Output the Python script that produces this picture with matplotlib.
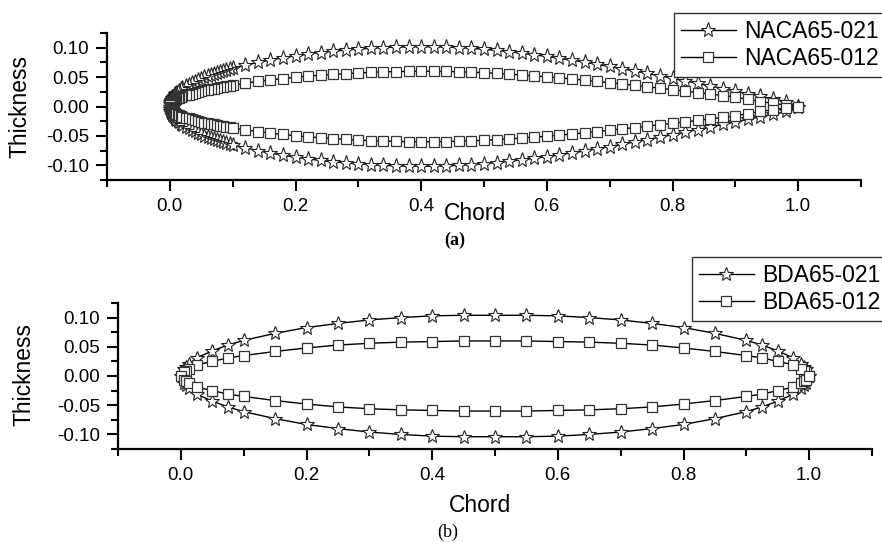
import matplotlib
matplotlib.use("Agg")
import matplotlib.pyplot as plt
from matplotlib.ticker import MultipleLocator, FormatStrFormatter
import numpy as np

plt.rcParams['font.family'] = ['Liberation Sans', 'DejaVu Sans']
plt.rcParams['axes.unicode_minus'] = False

W, H = 882, 542

# (a) NACA65 half-thickness distributions
naca_x = [0, 0.0005, 0.001, 0.0015, 0.002, 0.0025, 0.003, 0.004, 0.005, 0.006,
          0.0075, 0.009, 0.01, 0.0125, 0.015, 0.0175, 0.02, 0.025, 0.03, 0.035,
          0.04, 0.045, 0.05, 0.055, 0.06, 0.065, 0.07, 0.075, 0.08, 0.085,
          0.09, 0.095, 0.1, 0.12, 0.14, 0.16, 0.18, 0.2, 0.22, 0.24,
          0.26, 0.28, 0.3, 0.32, 0.34, 0.36, 0.38, 0.4, 0.42, 0.44,
          0.46, 0.48, 0.5, 0.52, 0.54, 0.56, 0.58, 0.6, 0.62, 0.64,
          0.66, 0.68, 0.7, 0.72, 0.74, 0.76, 0.78, 0.8, 0.82, 0.84,
          0.86, 0.88, 0.9, 0.92, 0.94, 0.96, 0.98, 1.0]
naca021 = [0, 0.0050, 0.0071, 0.0087, 0.0100, 0.0112, 0.0122, 0.0141, 0.0158, 0.0172,
           0.0194, 0.0211, 0.0222, 0.0248, 0.0272, 0.0293, 0.0312, 0.0344, 0.0374, 0.0400,
           0.0425, 0.0452, 0.0475, 0.0496, 0.0516, 0.0535, 0.0554, 0.0571, 0.0588, 0.0605,
           0.0621, 0.0636, 0.0652, 0.0703, 0.0750, 0.0792, 0.0829, 0.0863, 0.0892, 0.0918,
           0.0940, 0.0960, 0.0977, 0.0990, 0.1001, 0.1010, 0.1015, 0.1017, 0.1016, 0.1011,
           0.1001, 0.0989, 0.0973, 0.0953, 0.0931, 0.0907, 0.0879, 0.0851, 0.0820, 0.0788,
           0.0754, 0.0718, 0.0681, 0.0642, 0.0603, 0.0562, 0.0521, 0.0478, 0.0436, 0.0393,
           0.0350, 0.0306, 0.0262, 0.0218, 0.0174, 0.0130, 0.0085, 0]
naca012 = [0, 0.0029, 0.0041, 0.0050, 0.0058, 0.0065, 0.0071, 0.0082, 0.0092, 0.0100,
           0.0111, 0.0120, 0.0126, 0.0140, 0.0152, 0.0163, 0.0174, 0.0188, 0.0204, 0.0219,
           0.0233, 0.0248, 0.0261, 0.0273, 0.0284, 0.0295, 0.0306, 0.0317, 0.0327, 0.0337,
           0.0347, 0.0356, 0.0365, 0.0397, 0.0426, 0.0452, 0.0475, 0.0498, 0.0516, 0.0532,
           0.0546, 0.0559, 0.0572, 0.0581, 0.0589, 0.0594, 0.0598, 0.0600, 0.0599, 0.0596,
           0.0590, 0.0583, 0.0576, 0.0564, 0.0551, 0.0536, 0.0521, 0.0505, 0.0487, 0.0468,
           0.0448, 0.0426, 0.0405, 0.0382, 0.0359, 0.0335, 0.0311, 0.0287, 0.0262, 0.0237,
           0.0212, 0.0187, 0.0161, 0.0120, 0.0085, 0.0055, 0.0025, 0]

# (b) BDA65 half-thickness distributions
bda_x = [0, 0.005, 0.0075, 0.0125, 0.025, 0.05, 0.075, 0.1, 0.15, 0.2,
         0.25, 0.3, 0.35, 0.4, 0.45, 0.5, 0.55, 0.6, 0.65, 0.7,
         0.75, 0.8, 0.85, 0.9, 0.925, 0.95, 0.975, 0.9875, 0.9925, 0.995, 1.0]
bda021 = [0, 0.012, 0.015, 0.020, 0.031, 0.043, 0.053, 0.061, 0.073, 0.083,
          0.090, 0.096, 0.100, 0.103, 0.104, 0.104, 0.104, 0.103, 0.100, 0.096,
          0.090, 0.083, 0.073, 0.061, 0.053, 0.043, 0.031, 0.020, 0.015, 0.012, 0]
bda012 = [0, 0.007, 0.009, 0.012, 0.019, 0.025, 0.031, 0.035, 0.042, 0.048,
          0.053, 0.056, 0.058, 0.059, 0.060, 0.060, 0.060, 0.059, 0.058, 0.056,
          0.053, 0.048, 0.042, 0.035, 0.031, 0.025, 0.019, 0.012, 0.009, 0.007, 0]


def contour(xs, ts):
    xs = np.asarray(xs)
    ts = np.asarray(ts)
    return (np.concatenate([xs[::-1], xs[1:]]),
            np.concatenate([ts[::-1], -ts[1:]]))


def style_axes(ax):
    for s in ['top', 'right']:
        ax.spines[s].set_visible(False)
    for s in ['left', 'bottom']:
        ax.spines[s].set_linewidth(1.6)
    ax.set_xlim(-0.1, 1.1)
    ax.set_ylim(-0.125, 0.125)
    ax.xaxis.set_major_locator(MultipleLocator(0.2))
    ax.xaxis.set_minor_locator(MultipleLocator(0.1))
    ax.yaxis.set_major_locator(MultipleLocator(0.05))
    ax.yaxis.set_minor_locator(MultipleLocator(0.025))
    ax.xaxis.set_major_formatter(FormatStrFormatter('%.1f'))
    ax.yaxis.set_major_formatter(FormatStrFormatter('%.2f'))
    ax.tick_params(which='major', direction='out', length=8, width=1.5,
                   labelsize=13.5, pad=5)
    ax.tick_params(which='minor', direction='out', length=5, width=1.5)


def add_legend(ax, left_px, top_px):
    leg = ax.legend(loc='upper left', bbox_to_anchor=(left_px / W, 1 - top_px / H),
                    bbox_transform=fig.transFigure, borderaxespad=0,
                    fontsize=16.5, handlelength=2.4, handletextpad=0.35,
                    borderpad=0.3, labelspacing=0.2, fancybox=False,
                    framealpha=1, edgecolor='#333333')
    leg.get_frame().set_linewidth(1.0)


fig = plt.figure(figsize=(W / 100, H / 100), dpi=100)

ax1 = fig.add_axes([107 / W, 1 - 180 / H, 754 / W, 147 / H])
x, y = contour(naca_x, naca021)
ax1.plot(x, y, color='black', lw=1, marker='*', ms=11, mfc='white',
         mec='#222222', mew=0.8, label='NACA65-021')
x, y = contour(naca_x, naca012)
ax1.plot(x, y, color='black', lw=1, marker='s', ms=7.3, mfc='white',
         mec='#333333', mew=0.9, label='NACA65-012')
style_axes(ax1)
add_legend(ax1, 674, 13)

ax2 = fig.add_axes([118 / W, 1 - 449 / H, 754 / W, 146 / H])
x, y = contour(bda_x, bda021)
ax2.plot(x, y, color='black', lw=1, marker='*', ms=10, mfc='white',
         mec='#222222', mew=0.8, label='BDA65-021')
x, y = contour(bda_x, bda012)
ax2.plot(x, y, color='black', lw=1, marker='s', ms=6.8, mfc='white',
         mec='#333333', mew=0.9, label='BDA65-012')
style_axes(ax2)
add_legend(ax2, 692, 257)

# axis labels and captions
fig.text(20 / W, 1 - 107 / H, 'Thickness', rotation=90, fontsize=16.5,
         ha='center', va='center')
fig.text(475 / W, 1 - 213 / H, 'Chord', fontsize=16.5, ha='center', va='center')
fig.text(455 / W, 1 - 240 / H, '(a)', fontsize=13, ha='center', va='center',
         family='Liberation Serif', fontweight='bold')

fig.text(24 / W, 1 - 374 / H, 'Thickness', rotation=90, fontsize=16.5,
         ha='center', va='center')
fig.text(480 / W, 1 - 505 / H, 'Chord', fontsize=16.5, ha='center', va='center')
fig.text(448 / W, 1 - 532 / H, '(b)', fontsize=13, ha='center', va='center',
         family='Liberation Serif')

fig.savefig('out.png', dpi=100)
